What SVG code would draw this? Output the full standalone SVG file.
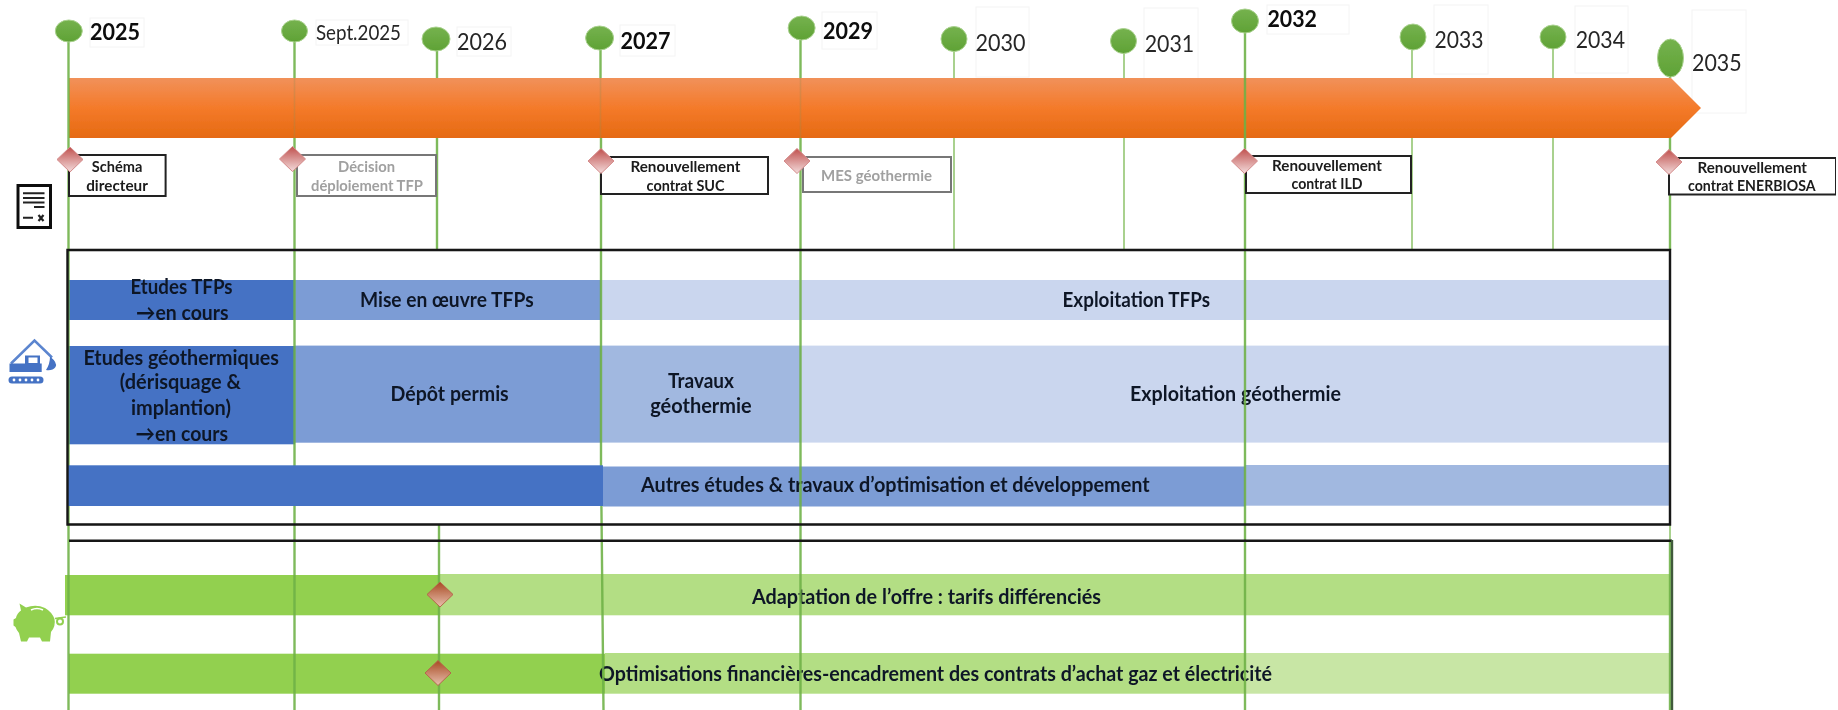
<svg xmlns="http://www.w3.org/2000/svg" width="1838" height="710" viewBox="0 0 1838 710">
<style>
text{font-family:Lato,"Open Sans","Liberation Sans",sans-serif;fill:#111}
.y{font-size:23.5px;fill:#262626}
.yb{font-size:23.5px;font-weight:700;fill:#0a0a0a}
.s{font-size:15.5px;font-weight:700;fill:#1a1a1a}
.g{fill:#a0a0a0}
.b{font-size:21px;font-weight:700;fill:#101828}
.ga{fill:#fff;stroke:#f4f4f4;stroke-width:1}
.m{fill:url(#ball);stroke:#a9d18e;stroke-width:1}
.d{fill:url(#dia);stroke:#d48a8a;stroke-width:1}
.d2{fill:url(#dia2);stroke:#b5684a;stroke-width:1}
.box{fill:#fff;stroke:#222;stroke-width:2}
.boxg{fill:#fff;stroke:#777;stroke-width:2}
.l{stroke:#6db145;stroke-width:2.4;stroke-opacity:.88;fill:none}
.t{stroke:#a9d18e;stroke-width:2;fill:none}
.f{stroke:#9a8a50;stroke-width:1.6;stroke-opacity:.3;fill:none}
.fr{fill:none;stroke:#151515;stroke-width:2.4}
.c1{fill:#4472c4}.c2{fill:#7c9cd5}.c3{fill:#a1b8e0}.c4{fill:#cad6ee}
.v1{fill:#92d050}.v2{fill:#b3de84}.v3{fill:#c8e6a5}
</style>
<defs>
<linearGradient id="arr" x1="0" y1="0" x2="0" y2="1"><stop offset="0" stop-color="#f1915a"/><stop offset=".5" stop-color="#f47a2a"/><stop offset="1" stop-color="#e56a12"/></linearGradient>
<linearGradient id="ball" x1="0" y1="0" x2="0" y2="1"><stop offset="0" stop-color="#75b24e"/><stop offset="1" stop-color="#5fa235"/></linearGradient>
<linearGradient id="dia" x1="0" y1="0" x2="0" y2="1"><stop offset="0" stop-color="#c0504d"/><stop offset="1" stop-color="#f3dcdc"/></linearGradient>
<linearGradient id="dia2" x1="0" y1="0" x2="0" y2="1"><stop offset="0" stop-color="#a84a22"/><stop offset="1" stop-color="#e8bfae"/></linearGradient>
<filter id="soft" x="0" y="0" width="100%" height="100%"><feGaussianBlur stdDeviation="0.4"/></filter>
</defs>
<rect width="1838" height="710" fill="#fff"/>
<g filter="url(#soft)">
<g id="labelframes">
<rect class="ga" x="90" y="18" width="54" height="29"/><rect class="ga" x="316" y="20" width="92" height="25"/><rect class="ga" x="457" y="27" width="54" height="29"/><rect class="ga" x="620" y="25" width="55" height="31"/><rect class="ga" x="822" y="12" width="55" height="37"/><rect class="ga" x="976" y="7" width="53" height="70"/><rect class="ga" x="1144" y="8" width="54" height="71"/><rect class="ga" x="1267" y="5" width="82" height="29"/><rect class="ga" x="1434" y="5" width="54" height="69"/><rect class="ga" x="1575" y="6" width="53" height="67"/><rect class="ga" x="1692" y="10" width="54" height="103"/>
</g>
<g id="timeline-arrow"><path d="M69,78H1671L1701,108L1671,138H69Z" fill="url(#arr)"/></g>

<g id="bar-tfp">
<rect class="c1" x="68" y="280" width="227" height="40"/><rect class="c2" x="295" y="280" width="306" height="40"/><rect class="c4" x="601" y="280" width="1069" height="40"/>
<text class="b" x="130.500" y="294" textLength="102" lengthAdjust="spacingAndGlyphs">Etudes TFPs</text>
<text class="b" x="136" y="320" textLength="92.500" lengthAdjust="spacingAndGlyphs">→en cours</text>
<text class="b" x="360" y="307" textLength="173.600" lengthAdjust="spacingAndGlyphs">Mise en œuvre TFPs</text>
<text class="b" x="1062.500" y="307" textLength="147.500" lengthAdjust="spacingAndGlyphs">Exploitation TFPs</text>
</g>
<g id="bar-geo">
<rect class="c1" x="68" y="346" width="227" height="98.300"/><rect class="c2" x="295" y="345.600" width="306" height="97.100"/><rect class="c3" x="601" y="345.600" width="200" height="97"/><rect class="c4" x="801" y="345.600" width="869" height="97"/>
<text class="b" x="83.400" y="364.700" textLength="195.600" lengthAdjust="spacingAndGlyphs">Etudes géothermiques</text>
<text class="b" x="119.800" y="389.300" textLength="121.200" lengthAdjust="spacingAndGlyphs">(dérisquage &amp;</text>
<text class="b" x="131" y="415" textLength="100" lengthAdjust="spacingAndGlyphs">implantion)</text>
<text class="b" x="135.500" y="441" textLength="92.500" lengthAdjust="spacingAndGlyphs">→en cours</text>
<text class="b" x="390.500" y="400.700" textLength="118.200" lengthAdjust="spacingAndGlyphs">Dépôt permis</text>
<text class="b" x="668" y="387.700" textLength="66" lengthAdjust="spacingAndGlyphs">Travaux</text>
<text class="b" x="650.200" y="412.700" textLength="101.500" lengthAdjust="spacingAndGlyphs">géothermie</text>
<text class="b" x="1130" y="400.700" textLength="211" lengthAdjust="spacingAndGlyphs">Exploitation géothermie</text>
</g>
<g id="bar-autres">
<rect class="c2" x="603" y="466.500" width="642" height="40"/><rect class="c3" x="1245" y="465" width="425" height="40.700"/>
<text class="b" x="641" y="492" textLength="508.700" lengthAdjust="spacingAndGlyphs">Autres études &amp; travaux d’optimisation  et développement</text>
</g>
<g id="bar-adaptation">
<rect class="v1" x="65" y="575" width="374" height="40.300"/><rect class="v2" x="439" y="574" width="1231" height="41.300"/>
<text class="b" x="752" y="604" textLength="349" lengthAdjust="spacingAndGlyphs">Adaptation de l’offre : tarifs différenciés</text>
</g>
<g id="bar-optimisations">
<rect class="v1" x="69" y="653.700" width="536" height="40"/><rect class="v2" x="605" y="653" width="640" height="40.700"/><rect class="v3" x="1245" y="653" width="425" height="40.700"/>
<text class="b" x="599" y="680.700" textLength="673" lengthAdjust="spacingAndGlyphs">Optimisations financières-encadrement des contrats d’achat  gaz et électricité</text>
</g>

<g id="connectors">
<path class="l" d="M68.500,31V710"/>
<path class="l" d="M294.500,31V78M294.500,138V710"/><path class="f" d="M294.500,78V138"/>
<path class="l" d="M437,39V78M437,138V250M439,525V710"/>
<path class="l" d="M600.500,38V78M601,138V465L603.500,710"/><path class="f" d="M600.500,78V138"/>
<path class="l" d="M800.500,28V78M800.500,138V710"/><path class="f" d="M800.500,78V138"/>
<path class="t" d="M954,39V78M954,138V250"/>
<path class="t" d="M1124,41V78M1124,138V250"/>
<path class="l" d="M1245,21V710"/>
<path class="t" d="M1412,37V78M1412,138V250"/>
<path class="t" d="M1553,37V78M1553,138V250"/>
<path class="l" d="M1670,58V78M1670,138V250M1670,540V710"/><path class="t" d="M1670,250V540"/>
</g>

<g id="bar-autres-amont"><rect class="c1" x="68" y="465.300" width="535" height="40.700"/></g>

<g id="frames">
<path class="fr" d="M67.500,250H1670V524.500H67.500Z"/>
<path class="fr" d="M69,540.700H1672"/>
<path d="M1672,540V710" fill="none" stroke="#3f5a3a" stroke-width="2.400"/>
</g>

<g id="m2025"><ellipse class="m" cx="68.800" cy="31" rx="13.500" ry="11"/><text class="yb" x="90" y="40" textLength="50" lengthAdjust="spacingAndGlyphs">2025</text></g>
<g id="msept"><ellipse class="m" cx="294.500" cy="31" rx="13" ry="11"/><text class="y" x="316" y="40" textLength="85" lengthAdjust="spacingAndGlyphs" style="font-size:21px">Sept.2025</text></g>
<g id="m2026"><ellipse class="m" cx="436" cy="39" rx="14" ry="12"/><text class="y" x="457" y="50" textLength="50" lengthAdjust="spacingAndGlyphs">2026</text></g>
<g id="m2027"><ellipse class="m" cx="599.600" cy="38" rx="14" ry="12"/><text class="yb" x="620.500" y="49" textLength="50" lengthAdjust="spacingAndGlyphs">2027</text></g>
<g id="m2029"><ellipse class="m" cx="801.600" cy="28" rx="13.500" ry="12"/><text class="yb" x="823" y="39" textLength="50" lengthAdjust="spacingAndGlyphs">2029</text></g>
<g id="m2030"><ellipse class="m" cx="954" cy="39" rx="13" ry="12.500"/><text class="y" x="975.500" y="50.700" textLength="50" lengthAdjust="spacingAndGlyphs">2030</text></g>
<g id="m2031"><ellipse class="m" cx="1123.500" cy="41" rx="13" ry="12.500"/><text class="y" x="1144.700" y="52" textLength="49.500" lengthAdjust="spacingAndGlyphs">2031</text></g>
<g id="m2032"><ellipse class="m" cx="1245" cy="21" rx="13.500" ry="12"/><text class="yb" x="1267.400" y="27" textLength="49.500" lengthAdjust="spacingAndGlyphs">2032</text></g>
<g id="m2033"><ellipse class="m" cx="1413" cy="37" rx="13" ry="13"/><text class="y" x="1434.600" y="48" textLength="49" lengthAdjust="spacingAndGlyphs">2033</text></g>
<g id="m2034"><ellipse class="m" cx="1553" cy="37" rx="13" ry="12"/><text class="y" x="1575.700" y="48" textLength="49.300" lengthAdjust="spacingAndGlyphs">2034</text></g>
<g id="m2035"><ellipse class="m" cx="1670.500" cy="58" rx="13" ry="19"/><text class="y" x="1692" y="70.700" textLength="49.700" lengthAdjust="spacingAndGlyphs">2035</text></g>

<g id="j-schema"><rect class="box" x="69" y="155" width="96.600" height="41"/><path class="d" d="M70,147L83,159.500L70,172L57,159.500Z"/>
<text class="s" x="91.700" y="172" textLength="50.600" lengthAdjust="spacingAndGlyphs">Schéma</text><text class="s" x="86.200" y="190.700" textLength="61.700" lengthAdjust="spacingAndGlyphs">directeur</text></g>
<g id="j-decision"><rect class="boxg" x="297" y="155" width="139" height="41"/><path class="d" d="M292.500,146.500L305.500,159L292.500,171.500L279.500,159Z"/>
<text class="s g" x="338" y="172" textLength="57" lengthAdjust="spacingAndGlyphs">Décision</text><text class="s g" x="311" y="190.700" textLength="112" lengthAdjust="spacingAndGlyphs">déploiement TFP</text></g>
<g id="j-suc"><rect class="box" x="601" y="157" width="167" height="37"/><path class="d" d="M601,148.500L614,161L601,173.500L588,161Z"/>
<text class="s" x="630.400" y="171.700" textLength="110" lengthAdjust="spacingAndGlyphs">Renouvellement</text><text class="s" x="646.600" y="190.700" textLength="78" lengthAdjust="spacingAndGlyphs">contrat SUC</text></g>
<g id="j-mes"><rect class="boxg" x="803" y="157" width="148" height="35"/><path class="d" d="M797,148.500L810,161L797,173.500L784,161Z"/>
<text class="s g" x="821" y="181" textLength="111" lengthAdjust="spacingAndGlyphs">MES géothermie</text></g>
<g id="j-ild"><rect class="box" x="1246" y="156" width="165" height="37"/><path class="d" d="M1244.500,148.500L1257.500,161L1244.500,173.500L1231.500,161Z"/>
<text class="s" x="1272" y="170.700" textLength="110" lengthAdjust="spacingAndGlyphs">Renouvellement</text><text class="s" x="1291.500" y="189" textLength="71" lengthAdjust="spacingAndGlyphs">contrat ILD</text></g>
<g id="j-enerbiosa"><rect class="box" x="1669" y="158" width="167" height="36.500"/><path class="d" d="M1669,149.500L1682,162L1669,174.500L1656,162Z"/>
<text class="s" x="1697.500" y="172.700" textLength="109.500" lengthAdjust="spacingAndGlyphs">Renouvellement</text><text class="s" x="1688" y="191" textLength="127.600" lengthAdjust="spacingAndGlyphs">contrat ENERBIOSA</text></g>

<g id="j-tarifs"><path class="d2" d="M440,582L453,594.500L440,607L427,594.500Z"/></g>
<g id="j-achat"><path class="d2" d="M438,660.500L451,673L438,685.500L425,673Z"/></g>

<g id="icon-contract">
<rect x="18" y="185.500" width="32.500" height="42" fill="#fff" stroke="#111" stroke-width="3"/>
<path d="M23,193.300H44.500M23,198H44.500M23,202.500H44.500M34,207H44.500M23,217.700H33" stroke="#222" stroke-width="2" fill="none"/>
<path d="M38.500,215L43.500,221M43.500,215L38.500,221" stroke="#222" stroke-width="2.200" fill="none"/>
</g>
<g id="icon-excavator" fill="#4472c4">
<path d="M11,363.500L34.500,340.500L52,357.500" fill="none" stroke="#5b85cf" stroke-width="2.500"/>
<path fill-rule="evenodd" d="M9.500,372V363.500H25V355.500H40V363.500H41.700V372ZM28.500,357.500V363H37.500V357.500Z"/>
<path d="M50,356.500Q58,363 55.500,367Q52.500,371 46,370Q50,364 50,356.500Z"/>
<rect x="8.500" y="376.500" width="35" height="7" rx="3.500"/>
<g fill="#fff"><circle cx="14" cy="380" r="1.400"/><circle cx="20" cy="380" r="1.400"/><circle cx="26" cy="380" r="1.400"/><circle cx="32" cy="380" r="1.400"/><circle cx="38" cy="380" r="1.400"/></g>
</g>
<g id="icon-piggy" fill="#92d050">
<path d="M19.500,603.500L26,607.500Q36,604 45,608Q52,612 54.500,619Q56,626 51,632L50,641.500H42L40,637.500H29L27,641.500H21L19,633Q16,629 15.500,627L13.500,625.500V619.500L16,618Q17,613 21,610.500Z"/>
<path d="M31,610Q37,607 43,610" fill="none" stroke="#fff" stroke-width="1.500"/>
<path d="M55,618.500L66,617" fill="none" stroke="#92d050" stroke-width="1.500"/>
<circle cx="60" cy="621.500" r="3" fill="none" stroke="#92d050" stroke-width="2"/>
</g>
</g>
</svg>
